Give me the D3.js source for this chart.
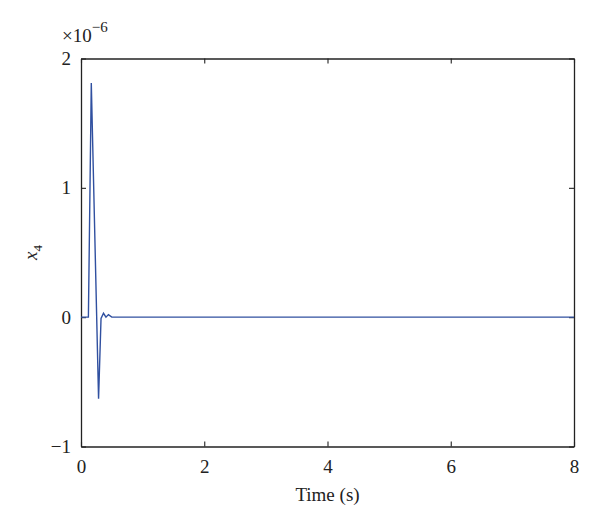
<!DOCTYPE html>
<html><head><meta charset="utf-8">
<script src="https://cdn.jsdelivr.net/npm/d3@7"></script>
<style>body{margin:0;background:#fff}svg{display:block}text{font-family:"Liberation Serif","Times New Roman",serif;fill:#222}</style>
</head><body>
<script>
// Data (x4 in units of 1e-6)
const time = [0, 0.12, 0.167, 0.285, 0.325, 0.365, 0.405, 0.445, 0.5, 8];
const x4 = [0, 0, 1.81, -0.63, -0.01, 0.03, 0.0, 0.02, 0, 0];
const xTicks = [0, 2, 4, 6, 8];
const yTicks = [-1, 0, 1, 2];
const xLabel = "Time (s)";

const W = 600, H = 530;
const m = {left: 81, right: 26, top: 58.5, bottom: 83.5};
const svg = d3.select("body").append("svg").attr("width", W).attr("height", H);
const x = d3.scaleLinear().domain([0, 8]).range([m.left, W - m.right]);
const y = d3.scaleLinear().domain([-1, 2]).range([H - m.bottom, m.top]);

const fs = 19;
// axes
const gx = svg.append("g").attr("transform", `translate(0,${y(-1)})`)
  .call(d3.axisBottom(x).tickValues(xTicks).tickFormat(d3.format("d")).tickSizeInner(-5).tickSizeOuter(0).tickPadding(13));
const gxt = svg.append("g").attr("transform", `translate(0,${y(2)})`)
  .call(d3.axisTop(x).tickValues(xTicks).tickFormat("").tickSizeInner(-5).tickSizeOuter(0));
const gy = svg.append("g").attr("transform", `translate(${x(0)},0)`)
  .call(d3.axisLeft(y).tickValues(yTicks).tickFormat(d => d < 0 ? "\u2212" + Math.abs(d) : d).tickSizeInner(-5).tickSizeOuter(0).tickPadding(10));
const gyr = svg.append("g").attr("transform", `translate(${x(8)},0)`)
  .call(d3.axisRight(y).tickValues(yTicks).tickFormat("").tickSizeInner(-5).tickSizeOuter(0));
[gx, gxt, gy, gyr].forEach(g => {
  g.selectAll("path.domain").attr("stroke", "#222").attr("stroke-width", 1.3);
  g.selectAll("line").attr("stroke", "#222").attr("stroke-width", 1.1);
  g.selectAll("text").attr("font-size", fs).attr("font-family", "Liberation Serif").attr("fill", "#222");
});

// line
const line = d3.line().x((d, i) => x(time[i])).y(d => y(d));
svg.append("path").datum(x4).attr("d", line)
  .attr("fill", "none").attr("stroke", "#3050a0").attr("stroke-width", 1.4).attr("stroke-linejoin", "miter");

// labels
svg.append("text").attr("x", (x(0) + x(8)) / 2).attr("y", 501).attr("text-anchor", "middle")
  .attr("font-size", fs).text(xLabel);
const yl = svg.append("text").attr("transform", `translate(37,${(y(-1) + y(2)) / 2}) rotate(-90)`)
  .attr("text-anchor", "middle").attr("font-size", fs);
yl.append("tspan").attr("font-style", "italic").text("x");
yl.append("tspan").attr("font-size", 13).attr("dy", 5).text("4");

const ex = svg.append("text").attr("x", 62).attr("y", 42).attr("font-size", fs);
ex.append("tspan").text("\u00d710");
ex.append("tspan").attr("font-size", 15).attr("dy", -10).text("\u22126");
</script>
</body></html>
